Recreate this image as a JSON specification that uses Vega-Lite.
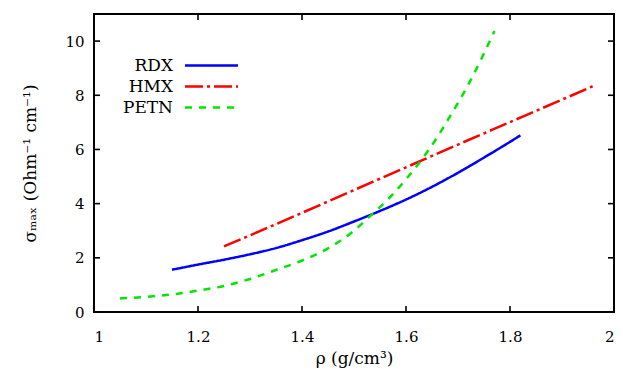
{
  "$schema": "https://vega.github.io/schema/vega-lite/v6.json",
  "width": 520,
  "height": 298,
  "autosize": "none",
  "padding": {"left": 94, "top": 14, "right": 9, "bottom": 57},
  "background": "white",
  "config": {
    "font": "DejaVu Serif",
    "view": {"stroke": "black", "strokeWidth": 2},
    "axis": {
      "domain": false,
      "grid": false,
      "ticks": false,
      "tickSize": 0,
      "labelFont": "DejaVu Serif",
      "labelFontSize": 15,
      "labelColor": "black",
      "titleFont": "DejaVu Serif",
      "titleFontSize": 17,
      "titleFontWeight": "normal",
      "titleColor": "black"
    },
    "legend": {
      "labelFont": "DejaVu Serif",
      "labelFontSize": 17,
      "labelColor": "black"
    }
  },
  "datasets": {
    "curves": [
      {"name": "RDX", "rho": 1.15, "sigma": 1.56},
      {"name": "RDX", "rho": 1.20, "sigma": 1.75},
      {"name": "RDX", "rho": 1.25, "sigma": 1.93},
      {"name": "RDX", "rho": 1.30, "sigma": 2.13},
      {"name": "RDX", "rho": 1.35, "sigma": 2.36},
      {"name": "RDX", "rho": 1.40, "sigma": 2.65},
      {"name": "RDX", "rho": 1.45, "sigma": 2.97},
      {"name": "RDX", "rho": 1.50, "sigma": 3.34},
      {"name": "RDX", "rho": 1.55, "sigma": 3.73},
      {"name": "RDX", "rho": 1.60, "sigma": 4.15},
      {"name": "RDX", "rho": 1.65, "sigma": 4.62},
      {"name": "RDX", "rho": 1.70, "sigma": 5.14},
      {"name": "RDX", "rho": 1.75, "sigma": 5.70},
      {"name": "RDX", "rho": 1.80, "sigma": 6.28},
      {"name": "RDX", "rho": 1.82, "sigma": 6.52},
      {"name": "HMX", "rho": 1.25, "sigma": 2.42},
      {"name": "HMX", "rho": 1.30, "sigma": 2.83},
      {"name": "HMX", "rho": 1.40, "sigma": 3.66},
      {"name": "HMX", "rho": 1.50, "sigma": 4.50},
      {"name": "HMX", "rho": 1.60, "sigma": 5.34},
      {"name": "HMX", "rho": 1.70, "sigma": 6.18},
      {"name": "HMX", "rho": 1.80, "sigma": 7.01},
      {"name": "HMX", "rho": 1.90, "sigma": 7.84},
      {"name": "HMX", "rho": 1.96, "sigma": 8.34},
      {"name": "PETN", "rho": 1.05, "sigma": 0.50},
      {"name": "PETN", "rho": 1.10, "sigma": 0.56},
      {"name": "PETN", "rho": 1.15, "sigma": 0.65},
      {"name": "PETN", "rho": 1.20, "sigma": 0.79},
      {"name": "PETN", "rho": 1.25, "sigma": 0.96},
      {"name": "PETN", "rho": 1.30, "sigma": 1.22},
      {"name": "PETN", "rho": 1.35, "sigma": 1.55},
      {"name": "PETN", "rho": 1.40, "sigma": 1.90},
      {"name": "PETN", "rho": 1.45, "sigma": 2.35},
      {"name": "PETN", "rho": 1.50, "sigma": 3.00},
      {"name": "PETN", "rho": 1.53, "sigma": 3.52},
      {"name": "PETN", "rho": 1.57, "sigma": 4.25},
      {"name": "PETN", "rho": 1.60, "sigma": 4.90},
      {"name": "PETN", "rho": 1.63, "sigma": 5.62},
      {"name": "PETN", "rho": 1.66, "sigma": 6.45},
      {"name": "PETN", "rho": 1.69, "sigma": 7.40},
      {"name": "PETN", "rho": 1.72, "sigma": 8.40},
      {"name": "PETN", "rho": 1.745, "sigma": 9.35},
      {"name": "PETN", "rho": 1.77, "sigma": 10.37}
    ],
    "xticks": [
      {"rho": 1.2}, {"rho": 1.4}, {"rho": 1.6}, {"rho": 1.8}
    ],
    "yticks": [
      {"sigma": 2}, {"sigma": 4}, {"sigma": 6}, {"sigma": 8}, {"sigma": 10}
    ]
  },
  "layer": [
    {
      "data": {"name": "curves"},
      "mark": {"type": "line", "strokeWidth": 2.5, "interpolate": "monotone", "clip": true},
      "encoding": {
        "x": {
          "field": "rho", "type": "quantitative",
          "scale": {"domain": [1, 2], "nice": false, "zero": false},
          "axis": {
            "orient": "bottom",
            "values": [1, 1.2, 1.4, 1.6, 1.8, 2],
            "format": "~g",
            "labelPadding": 17,
            "title": "ρ (g/cm³)",
            "titleX": 260,
            "titleY": 46,
            "titleAnchor": null,
            "titleAlign": "center",
            "titleBaseline": "middle"
          }
        },
        "y": {
          "field": "sigma", "type": "quantitative",
          "scale": {"domain": [0, 11], "nice": false},
          "axis": {
            "orient": "left",
            "values": [0, 2, 4, 6, 8, 10],
            "format": "d",
            "labelPadding": 10,
            "title": "σₘₐₓ (Ohm⁻¹ cm⁻¹)",
            "titleX": -64,
            "titleY": 149,
            "titleAngle": -90,
            "titleAlign": "center",
            "titleBaseline": "middle"
          }
        },
        "color": {
          "field": "name", "type": "nominal",
          "scale": {"domain": ["RDX", "HMX", "PETN"], "range": ["#0000ff", "#ff0000", "#00e600"]},
          "legend": {
            "title": null,
            "orient": "none",
            "legendX": 106,
            "legendY": 40,
            "padding": 0,
            "symbolType": "M-2.65,0H2.65",
            "symbolSize": 400,
            "symbolStrokeWidth": 2.5,
            "labelFont": "DejaVu Serif",
            "labelAlign": "right",
            "labelOffset": -50,
            "rowPadding": 1
          }
        },
        "strokeDash": {
          "field": "name", "type": "nominal",
          "scale": {"domain": ["RDX", "HMX", "PETN"], "range": [[1, 0], [18, 4, 3, 4], [7, 7]]},
          "legend": {
            "title": null,
            "orient": "none",
            "legendX": 106,
            "legendY": 40,
            "padding": 0,
            "symbolType": "M-2.65,0H2.65",
            "symbolSize": 400,
            "symbolStrokeWidth": 2.5,
            "labelFont": "DejaVu Serif",
            "labelAlign": "right",
            "labelOffset": -50,
            "rowPadding": 1
          }
        }
      }
    },
    {
      "data": {"name": "xticks"},
      "mark": {"type": "tick", "orient": "vertical", "size": 12, "thickness": 1.6, "color": "black", "opacity": 1, "clip": true},
      "encoding": {
        "x": {"field": "rho", "type": "quantitative", "scale": {"domain": [1, 2], "nice": false, "zero": false}},
        "y": {"datum": 0, "type": "quantitative"}
      }
    },
    {
      "data": {"name": "xticks"},
      "mark": {"type": "tick", "orient": "vertical", "size": 12, "thickness": 1.6, "color": "black", "opacity": 1, "clip": true},
      "encoding": {
        "x": {"field": "rho", "type": "quantitative", "scale": {"domain": [1, 2], "nice": false, "zero": false}},
        "y": {"datum": 11, "type": "quantitative"}
      }
    },
    {
      "data": {"name": "yticks"},
      "mark": {"type": "tick", "orient": "horizontal", "size": 12, "thickness": 1.6, "color": "black", "opacity": 1, "clip": true},
      "encoding": {
        "y": {"field": "sigma", "type": "quantitative", "scale": {"domain": [0, 11], "nice": false}},
        "x": {"datum": 1, "type": "quantitative"}
      }
    },
    {
      "data": {"name": "yticks"},
      "mark": {"type": "tick", "orient": "horizontal", "size": 12, "thickness": 1.6, "color": "black", "opacity": 1, "clip": true},
      "encoding": {
        "y": {"field": "sigma", "type": "quantitative", "scale": {"domain": [0, 11], "nice": false}},
        "x": {"datum": 2, "type": "quantitative"}
      }
    }
  ]
}
